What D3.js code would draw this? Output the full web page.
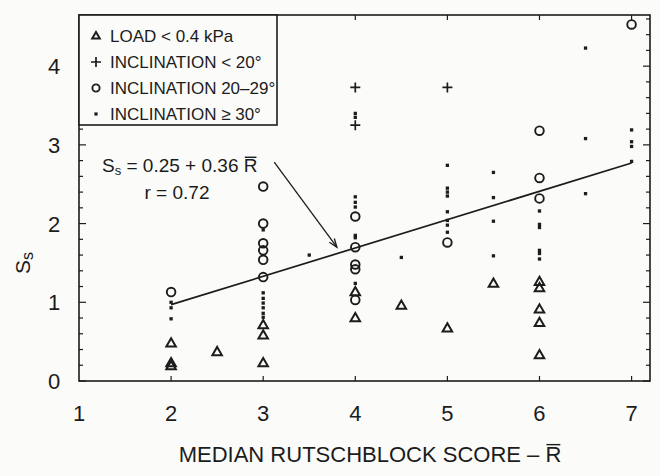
<!DOCTYPE html>
<html>
<head>
<meta charset="utf-8">
<script src="https://cdn.jsdelivr.net/npm/d3@7"></script>
<style>
  body { margin: 0; background: #fbfbf9; }
  text { font-family: "Liberation Sans", Arial, sans-serif; fill: #1c1c1c; }
</style>
</head>
<body>
<div id="chart"></div>
<script>
// data: [R, Ss]
let loadPts = [[2,0.48],[2,0.19],[2,0.23],[2.5,0.37],[3,0.71],[3,0.58],[3,0.23],
  [4,1.13],[4,0.80],[4.5,0.96],[5,0.67],[5.5,1.24],[6,1.26],[6,1.18],[6,0.91],[6,0.74],[6,0.33]];
let inclLow = [[4,3.73],[4,3.25],[5,3.73]];
let inclMid = [[2,1.13],[3,2.47],[3,2.0],[3,1.75],[3,1.66],[3,1.54],[3,1.32],
  [4,2.09],[4,1.70],[4,1.48],[4,1.42],[4,1.03],[5,1.76],[6,3.18],[6,2.58],[6,2.32],[7,4.53]];
let inclHigh = [[2,1.0],[2,0.93],[2,0.79],
  [3,1.92],[3,1.12],[3,1.05],[3,0.99],[3,0.93],[3,0.86],[3,0.81],[3.5,1.60],
  [4,3.40],[4,3.35],[4,2.34],[4,2.27],[4,2.21],[4,1.85],[4,1.82],[4,1.24],[4.5,1.57],
  [5,2.74],[5,2.45],[5,2.40],[5,2.35],[5,2.15],[5,2.04],[5,1.98],[5,1.89],
  [5.5,2.65],[5.5,2.33],[5.5,2.03],[5.5,1.59],
  [6,2.16],[6,1.99],[6,1.95],[6,1.66],[6,1.62],[6,1.55],
  [6.5,4.23],[6.5,3.08],[6.5,2.38],[7,3.19],[7,3.04],[7,2.98],[7,2.79]];
let xTicks = [1,2,3,4,5,6,7];
let yTicks = [0,1,2,3,4];
let legendLabels = ["LOAD < 0.4 kPa","INCLINATION < 20°","INCLINATION 20\u201329°","INCLINATION \u2265 30°"];
// regression Ss = a + b R
let fitA = 0.25, fitB = 0.36, fitR = 0.72;
let fitRange = [2, 7];

var svgwidth = 660, svgheight = 476;
var ink = "#1c1c1c";
var svg = d3.select("#chart").append("svg")
  .attr("width", svgwidth).attr("height", svgheight);

var margin = {left: 79, right: 10, top: 15, bottom: 95};
var x = d3.scaleLinear().domain([1, 7.2]).range([margin.left, svgwidth - margin.right]);
var y = d3.scaleLinear().domain([0, 4.65]).range([svgheight - margin.bottom, margin.top]);

// frame
svg.append("rect")
  .attr("x", x(1)).attr("y", y(4.65))
  .attr("width", x(7.2) - x(1)).attr("height", y(0) - y(4.65))
  .attr("fill", "none").attr("stroke", ink).attr("stroke-width", 1.6);

// ticks (inward)
var minor = d3.range(0, 4.61, 0.2);
var ytk = svg.append("g").attr("stroke", ink).attr("stroke-width", 1.2);
minor.forEach(function(v){
  var major = Math.abs(v - Math.round(v)) < 1e-6;
  var len = major ? 7 : 4;
  ytk.append("line").attr("x1", x(1)).attr("x2", x(1) + len).attr("y1", y(v)).attr("y2", y(v));
  ytk.append("line").attr("x1", x(7.2)).attr("x2", x(7.2) - len).attr("y1", y(v)).attr("y2", y(v));
});
xTicks.slice(1).forEach(function(v){
  ytk.append("line").attr("x1", x(v)).attr("x2", x(v)).attr("y1", y(0)).attr("y2", y(0) - 5);
  ytk.append("line").attr("x1", x(v)).attr("x2", x(v)).attr("y1", y(4.65)).attr("y2", y(4.65) + 5);
});

// tick labels
svg.append("g").selectAll("text").data(xTicks).enter().append("text")
  .attr("x", d => x(d)).attr("y", y(0) + 40)
  .attr("text-anchor", "middle").attr("font-size", "22px").text(d => d);
svg.append("g").selectAll("text").data(yTicks).enter().append("text")
  .attr("x", 54).attr("y", d => y(d)).attr("dy", "0.36em")
  .attr("text-anchor", "middle").attr("font-size", "22px").text(d => d);

// axis titles
var xt = svg.append("text").attr("x", 370).attr("y", 462)
  .attr("text-anchor", "middle").attr("font-size", "22px");
xt.append("tspan").text("MEDIAN RUTSCHBLOCK SCORE \u2013 ");
var xtR = xt.append("tspan").text("R");

var yl = svg.append("text").attr("transform", "translate(30,263) rotate(-90)")
  .attr("text-anchor", "middle").attr("font-size", "21px");
yl.append("tspan").text("S");
yl.append("tspan").attr("font-size", "16px").attr("dy", "3").text("s");

// markers
function tri(g, px, py, s){
  g.append("path")
    .attr("d", `M${px},${py - s}L${px + s * 0.95},${py + s * 0.65}L${px - s * 0.95},${py + s * 0.65}Z`)
    .attr("fill", "none").attr("stroke", ink).attr("stroke-width", 2);
}
function plus(g, px, py, s){
  g.append("path").attr("d", `M${px - s},${py}H${px + s}M${px},${py - s}V${py + s}`)
    .attr("stroke", ink).attr("stroke-width", 1.7);
}
function circ(g, px, py, r){
  g.append("circle").attr("cx", px).attr("cy", py).attr("r", r)
    .attr("fill", "none").attr("stroke", ink).attr("stroke-width", 1.9);
}
function dot(g, px, py, s){
  g.append("rect").attr("x", px - s / 2).attr("y", py - s / 2).attr("width", s).attr("height", s)
    .attr("fill", ink);
}

var pts = svg.append("g");
loadPts.forEach(d => tri(pts, x(d[0]), y(d[1]), 5));
inclLow.forEach(d => plus(pts, x(d[0]), y(d[1]), 5));
inclMid.forEach(d => circ(pts, x(d[0]), y(d[1]), 4.3));
inclHigh.forEach(d => dot(pts, x(d[0]), y(d[1]), 3.3));

// regression line
svg.append("line")
  .attr("x1", x(fitRange[0])).attr("y1", y(fitA + fitB * fitRange[0]))
  .attr("x2", x(fitRange[1])).attr("y2", y(fitA + fitB * fitRange[1]))
  .attr("stroke", ink).attr("stroke-width", 1.7);

// legend
var lg = svg.append("g");
lg.append("rect").attr("x", x(1)).attr("y", y(4.65)).attr("width", 198).attr("height", 110)
  .attr("fill", "#fbfbf9").attr("stroke", ink).attr("stroke-width", 1.6);
var mk = [tri, plus, circ, dot];
var ms = [4, 5, 3.6, 3.2];
legendLabels.forEach(function(t, i){
  var ly = 36 + i * 26;
  mk[i](lg, 96, ly, ms[i]);
  lg.append("text").attr("x", 110).attr("y", ly).attr("dy", "0.36em")
    .attr("font-size", "17px").text(t);
});

// equation annotation
var eq = svg.append("text").attr("x", 102).attr("y", 172).attr("font-size", "19px");
eq.append("tspan").text("S");
eq.append("tspan").attr("font-size", "13px").attr("dy", "3").text("s");
eq.append("tspan").attr("dy", "-3").text(` = ${fitA} + ${fitB} `);
var eqR = eq.append("tspan").text("R");
svg.append("text").attr("x", 177).attr("y", 199).attr("text-anchor", "middle")
  .attr("font-size", "19px").text(`r = ${fitR}`);

// overbars over R
function overbar(ts, fs){
  var b = ts.node().getBBox();
  svg.append("line").attr("x1", b.x + 1).attr("x2", b.x + b.width - 1)
    .attr("y1", b.y + fs * 0.12).attr("y2", b.y + fs * 0.12)
    .attr("stroke", ink).attr("stroke-width", 1.4);
}
overbar(eqR, 19);
overbar(xtR, 22);

// arrow from equation to the fit line
var a0 = [3.12, 2.78], a1 = [3.8, 1.70];
var ax0 = x(a0[0]), ay0 = y(a0[1]), ax1 = x(a1[0]), ay1 = y(a1[1]);
svg.append("line").attr("x1", ax0).attr("y1", ay0).attr("x2", ax1).attr("y2", ay1)
  .attr("stroke", ink).attr("stroke-width", 1.3);
var ang = Math.atan2(ay1 - ay0, ax1 - ax0);
var hl = 9, hw = 0.35;
svg.append("path")
  .attr("d", `M${ax1 - hl * Math.cos(ang - hw)},${ay1 - hl * Math.sin(ang - hw)}L${ax1},${ay1}L${ax1 - hl * Math.cos(ang + hw)},${ay1 - hl * Math.sin(ang + hw)}`)
  .attr("fill", "none").attr("stroke", ink).attr("stroke-width", 1.3);
</script>
</body>
</html>
